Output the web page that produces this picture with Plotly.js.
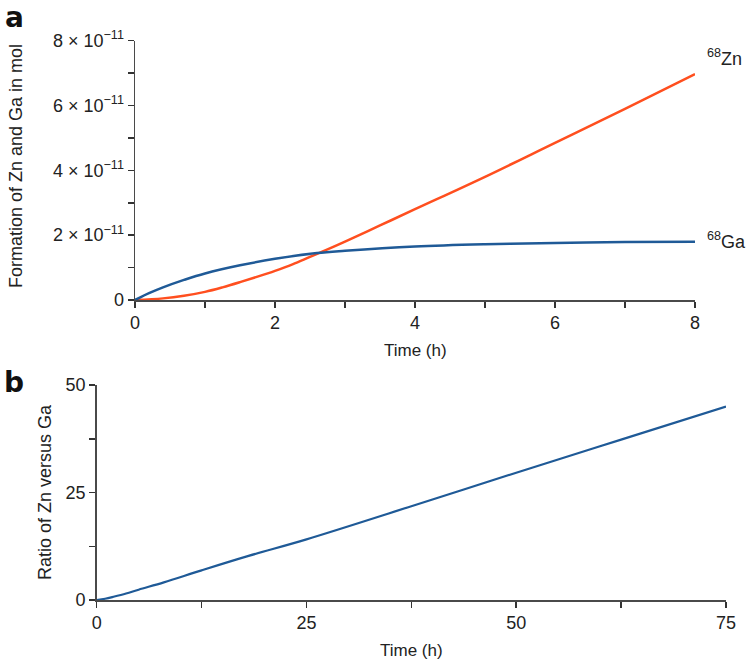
<!DOCTYPE html>
<html><head><meta charset="utf-8">
<script src="https://cdn.plot.ly/plotly-3.0.1.min.js"></script>
<style>html,body{margin:0;padding:0;background:#fff}</style>
</head><body><div id="chart" style="width:750px;height:663px"></div>
<script>
// Panel a: formation (mol) vs time (h)
const timeGa = [0, 0.2, 0.4, 0.7, 1, 1.5, 2, 2.6, 3, 4, 5, 6, 7, 8];
const ga68   = [0, 0.21e-11, 0.39e-11, 0.62e-11, 0.82e-11, 1.07e-11, 1.27e-11, 1.45e-11, 1.52e-11, 1.65e-11, 1.72e-11, 1.76e-11, 1.79e-11, 1.80e-11];
const timeZn = [0, 0.4, 0.7, 1, 1.25, 1.5, 1.75, 2, 2.25, 2.5, 2.75, 3, 3.5, 4, 5, 6, 7, 8];
const zn68   = [0, 0.05e-11, 0.13e-11, 0.25e-11, 0.39e-11, 0.55e-11, 0.72e-11, 0.9e-11, 1.1e-11, 1.33e-11, 1.56e-11, 1.8e-11, 2.3e-11, 2.8e-11, 3.8e-11, 4.85e-11, 5.9e-11, 6.97e-11];
const xTicksA = [0, 1, 2, 3, 4, 5, 6, 7, 8];
const xLabelsA = ['0', '', '2', '', '4', '', '6', '', '8'];
const yTicksA = [0, 1e-11, 2e-11, 3e-11, 4e-11, 5e-11, 6e-11, 7e-11, 8e-11];
const yLabelsA = ['0', '', '2 × 10<sup>−11</sup>', '', '4 × 10<sup>−11</sup>', '', '6 × 10<sup>−11</sup>', '', '8 × 10<sup>−11</sup>'];

// Panel b: ratio Zn/Ga vs time (h)
const timeB = [0, 1, 2, 3.5, 5, 8, 12.5, 18, 25, 37.5, 50, 62.5, 75];
const ratio = [0, 0.3, 0.75, 1.5, 2.4, 4.1, 6.9, 10.2, 14.1, 21.8, 29.6, 37.3, 45];
const xTicksB = [0, 12.5, 25, 37.5, 50, 62.5, 75];
const xLabelsB = ['0', '', '25', '', '50', '', '75'];
const yTicksB = [0, 12.5, 25, 37.5, 50];
const yLabelsB = ['0', '', '25', '', '50'];

const W = 750, H = 663;
const px = v => v / W;
const py = v => 1 - v / H;
const FONT = 'Liberation Sans, Arial, Helvetica, sans-serif';
const RED = '#ff4f1f', BLUE = '#1f5a97';
const axisCommon = {
  showline: true, linecolor: '#4a4a4a', linewidth: 1.5, ticks: 'outside', ticklen: 6,
  tickwidth: 1.5, tickcolor: '#333', showgrid: false, zeroline: false,
  tickfont: {family: FONT, size: 18, color: '#222'}, tickmode: 'array', fixedrange: true
};

const traces = [
  {x: timeZn, y: zn68, xaxis: 'x', yaxis: 'y', mode: 'lines', line: {color: RED, width: 2.5, shape: 'spline', smoothing: 1}, hoverinfo: 'skip'},
  {x: timeGa, y: ga68, xaxis: 'x', yaxis: 'y', mode: 'lines', line: {color: BLUE, width: 2.5, shape: 'spline', smoothing: 1}, hoverinfo: 'skip'},
  {x: timeB, y: ratio, xaxis: 'x2', yaxis: 'y2', mode: 'lines', line: {color: BLUE, width: 2.2, shape: 'spline', smoothing: 1}, hoverinfo: 'skip'}
];

const ann = (text, x, y, opts) => Object.assign({text, x: px(x), y: py(y), xref: 'paper', yref: 'paper', showarrow: false,
  xanchor: 'center', yanchor: 'middle',
  font: {family: FONT, size: 17, color: '#222'}}, opts || {});

const layout = {
  width: W, height: H, margin: {l: 0, r: 0, t: 0, b: 0},
  paper_bgcolor: '#fff', plot_bgcolor: '#fff', showlegend: false,
  xaxis: Object.assign({}, axisCommon, {domain: [px(135), px(695)], range: [0, 8], anchor: 'y', tickvals: xTicksA, ticktext: xLabelsA}),
  yaxis: Object.assign({}, axisCommon, {domain: [py(300), py(40.7)], range: [0, 8e-11], anchor: 'x', tickvals: yTicksA, ticktext: yLabelsA}),
  xaxis2: Object.assign({}, axisCommon, {domain: [px(96.7), px(726)], range: [0, 75], anchor: 'y2', tickvals: xTicksB, ticktext: xLabelsB}),
  yaxis2: Object.assign({}, axisCommon, {domain: [py(600), py(385)], range: [0, 50], anchor: 'x2', tickvals: yTicksB, ticktext: yLabelsB}),
  annotations: [
    ann('<b>a</b>', 14, 17, {font: {family: 'DejaVu Sans, sans-serif', size: 28, color: '#111'}}),
    ann('<b>b</b>', 14, 383, {font: {family: 'DejaVu Sans, sans-serif', size: 28, color: '#111'}}),
    ann('Formation of Zn and Ga in mol', 16, 166, {textangle: -90, font: {family: FONT, size: 18, color: '#222'}}),
    ann('Time (h)', 415, 350),
    ann('Ratio of Zn versus Ga', 45, 492, {textangle: -90, font: {family: FONT, size: 18, color: '#222'}}),
    ann('Time (h)', 411, 650),
    ann('<sup>68</sup>Zn', 705, 57, {xanchor: 'left', font: {family: FONT, size: 18, color: '#222'}}),
    ann('<sup>68</sup>Ga', 705, 240, {xanchor: 'left', font: {family: FONT, size: 18, color: '#222'}})
  ]
};

Plotly.newPlot('chart', traces, layout, {displayModeBar: false, staticPlot: true});
</script>
</body></html>
